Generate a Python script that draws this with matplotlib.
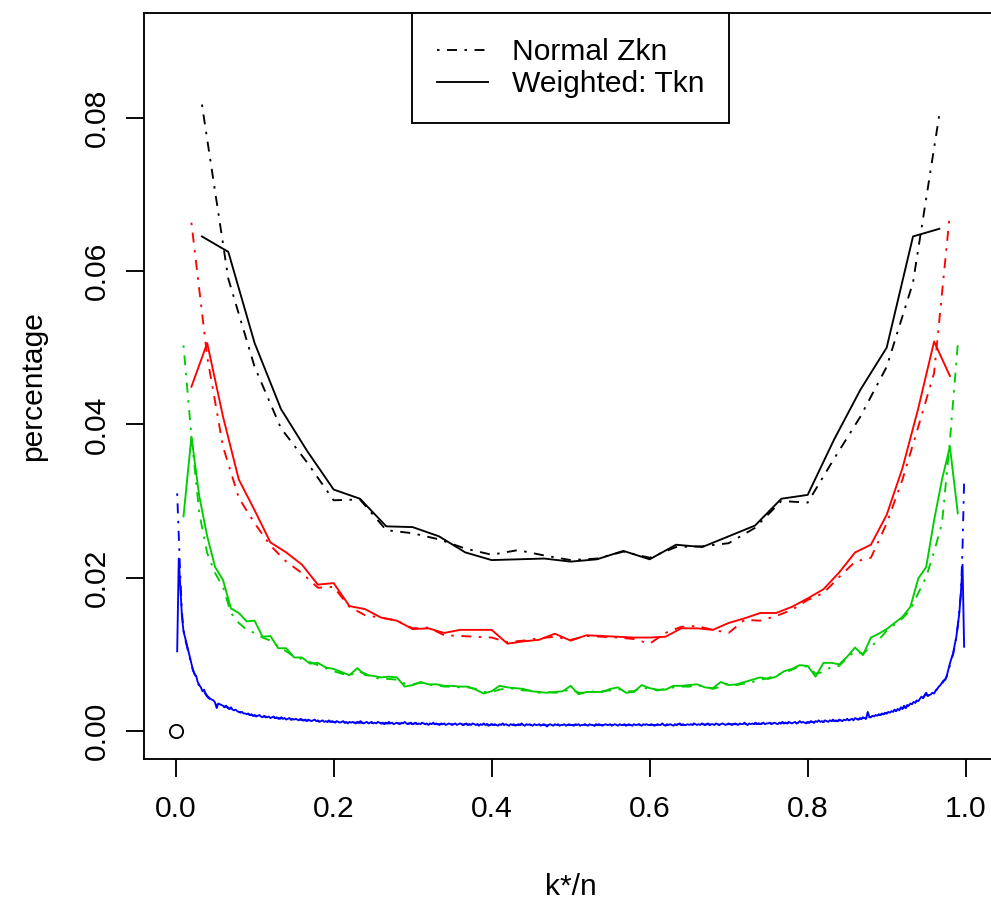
import matplotlib
matplotlib.use("Agg")
import matplotlib.pyplot as plt
import numpy as np

plt.rcParams["font.family"] = ["Liberation Sans", "DejaVu Sans"]
plt.rcParams["lines.scale_dashes"] = False

# sample sizes: points are at k/n for k = 1 .. n-1
n_black, n_red, n_green, n_blue = 30, 50, 100, 500

# black, n = 30
black_zkn = [0.0817, 0.0590, 0.0475, 0.0395, 0.0350, 0.0301, 0.0302, 0.0262, 0.0258, 0.0250,
             0.0238, 0.0230, 0.0236, 0.0229, 0.0223, 0.0225, 0.0234, 0.0226, 0.0240, 0.0241,
             0.0245, 0.0265, 0.0300, 0.0298, 0.0355, 0.0410, 0.0475, 0.0585, 0.0804]
black_tkn = [0.0645, 0.0625, 0.0506, 0.0420, 0.0365, 0.0315, 0.0303, 0.0267, 0.0266, 0.0254,
             0.0233, 0.0223, 0.0224, 0.0225, 0.0221, 0.0224, 0.0235, 0.0224, 0.0243, 0.0240,
             0.0254, 0.0268, 0.0303, 0.0308, 0.0380, 0.0445, 0.0500, 0.0645, 0.0655]

# red, n = 50
red_zkn = [0.0663, 0.0488, 0.0371, 0.0304, 0.0271, 0.0242, 0.0221, 0.0206, 0.0187, 0.0188,
           0.0162, 0.0151, 0.0148, 0.0144, 0.0134, 0.0135, 0.0125, 0.0124, 0.0123, 0.0122,
           0.0116, 0.0118, 0.0121, 0.0123, 0.0119, 0.0124, 0.0123, 0.0122, 0.0120, 0.0114,
           0.0128, 0.0136, 0.0137, 0.0132, 0.0128, 0.0145, 0.0144, 0.0150, 0.0158, 0.0171,
           0.0180, 0.0201, 0.0221, 0.0226, 0.0271, 0.0328, 0.0397, 0.0467, 0.0675]
red_tkn = [0.0449, 0.0506, 0.0410, 0.0328, 0.0288, 0.0246, 0.0233, 0.0217, 0.0191, 0.0193,
           0.0163, 0.0159, 0.0148, 0.0144, 0.0133, 0.0134, 0.0128, 0.0132, 0.0132, 0.0132,
           0.0114, 0.0117, 0.0119, 0.0127, 0.0118, 0.0125, 0.0124, 0.0123, 0.0122, 0.0122,
           0.0123, 0.0134, 0.0134, 0.0132, 0.0141, 0.0147, 0.0154, 0.0154, 0.0162, 0.0173,
           0.0185, 0.0207, 0.0233, 0.0243, 0.0282, 0.0343, 0.0421, 0.0508, 0.0463]

# green, n = 100
green_zkn = [0.0503, 0.0385, 0.0284, 0.0232, 0.0206, 0.0188, 0.0154, 0.0141, 0.0132, 0.0128,
             0.0122, 0.0118, 0.0110, 0.0104, 0.0097, 0.0094, 0.0090, 0.0086, 0.0082, 0.0078,
             0.0075, 0.0072, 0.0078, 0.0075, 0.0070, 0.0068, 0.0068, 0.0067, 0.0062, 0.0061,
             0.0063, 0.0060, 0.0060, 0.0058, 0.0058, 0.0057, 0.0057, 0.0055, 0.0051, 0.0051,
             0.0054, 0.0056, 0.0055, 0.0053, 0.0053, 0.0050, 0.0051, 0.0050, 0.0051, 0.0055,
             0.0050, 0.0050, 0.0052, 0.0052, 0.0053, 0.0055, 0.0052, 0.0052, 0.0057, 0.0055,
             0.0053, 0.0055, 0.0057, 0.0058, 0.0058, 0.0060, 0.0058, 0.0055, 0.0058, 0.0062,
             0.0060, 0.0062, 0.0064, 0.0067, 0.0069, 0.0073, 0.0076, 0.0080, 0.0085, 0.0084,
             0.0075, 0.0077, 0.0084, 0.0085, 0.0096, 0.0104, 0.0101, 0.0110, 0.0119, 0.0131,
             0.0139, 0.0147, 0.0158, 0.0180, 0.0201, 0.0234, 0.0271, 0.0378, 0.0505]
green_tkn = [0.0280, 0.0384, 0.0306, 0.0254, 0.0214, 0.0197, 0.0160, 0.0154, 0.0143, 0.0144,
             0.0123, 0.0124, 0.0108, 0.0108, 0.0096, 0.0096, 0.0088, 0.0089, 0.0083, 0.0081,
             0.0077, 0.0073, 0.0082, 0.0073, 0.0072, 0.0070, 0.0071, 0.0070, 0.0058, 0.0060,
             0.0064, 0.0061, 0.0061, 0.0059, 0.0059, 0.0058, 0.0058, 0.0054, 0.0049, 0.0052,
             0.0059, 0.0057, 0.0056, 0.0055, 0.0052, 0.0051, 0.0050, 0.0051, 0.0052, 0.0059,
             0.0048, 0.0051, 0.0051, 0.0051, 0.0055, 0.0057, 0.0050, 0.0051, 0.0060, 0.0056,
             0.0054, 0.0054, 0.0059, 0.0059, 0.0060, 0.0061, 0.0057, 0.0056, 0.0064, 0.0060,
             0.0061, 0.0064, 0.0067, 0.0070, 0.0068, 0.0071, 0.0078, 0.0081, 0.0086, 0.0085,
             0.0071, 0.0089, 0.0089, 0.0087, 0.0097, 0.0109, 0.0099, 0.0122, 0.0127, 0.0133,
             0.0141, 0.0149, 0.0162, 0.0199, 0.0214, 0.0275, 0.0328, 0.0371, 0.0284]

# blue, n = 500, in units of 1e-4
blue_zkn_e4 = [
    310, 255, 200, 155, 132, 120, 112, 103, 95, 86, 79, 75, 70, 63, 59, 56, 53, 52, 48, 45, 43, 41, 40, 39, 36,
    33, 35, 34, 33, 32, 31, 32, 31, 29, 30, 28, 27, 27, 26, 25, 25, 24, 23, 22, 23, 22, 21, 21, 20, 20,
    20, 19, 20, 19, 19, 19, 18, 18, 18, 18, 17, 18, 17, 17, 17, 16, 17, 16, 16, 16, 16, 16, 15, 15, 15,
    15, 15, 15, 15, 14, 14, 14, 14, 14, 14, 14, 13, 14, 13, 13, 13, 13, 13, 13, 12, 12, 13, 12, 12, 12,
    12, 12, 12, 11, 12, 12, 11, 11, 11, 11, 11, 11, 11, 11, 11, 11, 11, 11, 11, 11, 11, 10, 10, 11, 10,
    10, 10, 11, 10, 10, 10, 10, 10, 10, 10, 10, 10, 10, 10, 10, 10, 10, 10, 10, 10, 10, 10, 10, 10, 9,
    10, 10, 9, 10, 9, 10, 10, 9, 9, 9, 9, 9, 10, 9, 9, 9, 9, 9, 9, 9, 9, 9, 9, 9, 9,
    9, 9, 9, 9, 9, 9, 8, 9, 9, 8, 9, 8, 9, 9, 8, 9, 8, 9, 8, 9, 8, 9, 8, 8, 9,
    8, 8, 8, 8, 9, 8, 9, 8, 8, 8, 8, 8, 8, 8, 8, 8, 8, 8, 9, 8, 8, 8, 8, 8, 8,
    8, 8, 8, 8, 8, 8, 8, 8, 8, 7, 8, 8, 8, 8, 8, 8, 8, 8, 8, 8, 8, 8, 8, 8, 8,
    8, 8, 8, 8, 8, 8, 8, 8, 8, 8, 8, 8, 8, 8, 7, 8, 8, 8, 8, 8, 8, 8, 8, 8, 8,
    8, 8, 8, 8, 8, 8, 8, 8, 8, 8, 8, 8, 8, 8, 8, 8, 8, 9, 8, 8, 8, 8, 8, 8, 8,
    8, 8, 8, 8, 8, 8, 8, 9, 8, 8, 8, 8, 8, 8, 8, 8, 8, 9, 9, 8, 8, 8, 8, 8, 8,
    9, 8, 9, 9, 8, 9, 8, 9, 9, 8, 9, 9, 8, 9, 9, 8, 9, 9, 8, 9, 9, 9, 8, 9, 9,
    9, 9, 9, 9, 9, 9, 9, 9, 9, 10, 9, 9, 10, 9, 10, 9, 10, 9, 10, 9, 10, 10, 9, 10, 10,
    10, 10, 10, 10, 10, 10, 10, 10, 11, 10, 11, 10, 11, 11, 10, 11, 11, 10, 11, 12, 11, 11, 11, 11, 11,
    11, 12, 12, 11, 12, 12, 13, 12, 12, 12, 13, 12, 12, 13, 13, 14, 13, 13, 13, 14, 14, 13, 14, 14, 15,
    14, 15, 15, 14, 16, 16, 15, 16, 16, 17, 17, 16, 22, 18, 18, 19, 19, 20, 20, 21, 21, 22, 22, 23, 23,
    24, 24, 25, 25, 27, 26, 28, 27, 30, 29, 32, 30, 33, 33, 35, 35, 37, 37, 39, 39, 41, 44, 43, 46, 48,
    46, 47, 48, 49, 50, 52, 55, 57, 60, 62, 65, 67, 71, 78, 86, 94, 100, 110, 122, 138, 158, 180, 240, 325]
blue_tkn_e4 = [
    104, 225, 188, 150, 130, 122, 114, 105, 97, 88, 80, 74, 72, 64, 60, 57, 52, 54, 49, 46, 44, 42, 41, 40, 37,
    30, 36, 35, 34, 33, 32, 33, 30, 29, 31, 28, 27, 28, 26, 25, 24, 25, 23, 23, 22, 23, 21, 22, 20, 21,
    19, 20, 21, 19, 18, 20, 19, 18, 19, 17, 18, 19, 17, 18, 16, 17, 18, 16, 17, 15, 16, 17, 15, 16, 15,
    16, 15, 14, 16, 15, 14, 15, 13, 15, 14, 13, 14, 15, 13, 14, 12, 13, 14, 12, 13, 12, 14, 12, 13, 12,
    11, 13, 12, 11, 12, 13, 11, 12, 10, 12, 11, 12, 11, 10, 12, 11, 13, 11, 10, 11, 12, 10, 11, 12, 10,
    11, 10, 12, 11, 10, 11, 9, 11, 10, 12, 10, 11, 9, 10, 11, 10, 9, 11, 10, 12, 10, 9, 10, 11, 9,
    10, 11, 9, 10, 9, 11, 10, 9, 10, 8, 10, 9, 11, 9, 10, 9, 8, 10, 9, 10, 8, 9, 10, 9, 8,
    9, 10, 8, 9, 10, 9, 8, 9, 10, 8, 9, 8, 10, 9, 8, 9, 7, 9, 8, 10, 8, 9, 7, 8, 9,
    8, 9, 8, 7, 9, 8, 10, 8, 9, 8, 7, 9, 8, 9, 7, 8, 9, 8, 10, 8, 7, 9, 8, 9, 8,
    7, 9, 8, 8, 9, 7, 8, 9, 8, 6, 8, 9, 8, 7, 9, 8, 9, 7, 8, 8, 9, 7, 8, 9, 8,
    8, 7, 9, 8, 9, 7, 8, 8, 9, 8, 7, 9, 8, 8, 7, 9, 8, 9, 8, 7, 8, 9, 8, 8, 9,
    7, 8, 9, 8, 7, 9, 8, 8, 9, 7, 8, 9, 8, 7, 9, 8, 8, 9, 8, 7, 9, 8, 9, 8, 8,
    9, 8, 7, 8, 9, 8, 8, 10, 8, 7, 9, 8, 9, 8, 7, 9, 8, 9, 10, 8, 9, 8, 8, 9, 8,
    9, 8, 10, 9, 8, 9, 8, 10, 9, 8, 9, 10, 8, 9, 9, 8, 10, 9, 8, 9, 10, 9, 8, 9, 10,
    9, 8, 9, 10, 9, 8, 10, 9, 9, 11, 9, 8, 10, 9, 10, 9, 11, 9, 10, 9, 10, 11, 9, 10, 10,
    11, 9, 10, 11, 10, 9, 11, 10, 12, 10, 11, 10, 12, 11, 10, 11, 12, 10, 11, 13, 11, 12, 11, 10, 12,
    11, 13, 12, 11, 13, 12, 14, 12, 13, 12, 14, 13, 12, 14, 13, 15, 13, 14, 13, 15, 14, 13, 15, 14, 16,
    14, 15, 16, 14, 17, 16, 15, 17, 16, 18, 17, 16, 25, 19, 18, 20, 19, 21, 20, 22, 21, 23, 22, 24, 23,
    25, 24, 26, 25, 28, 26, 29, 27, 31, 29, 33, 30, 34, 33, 36, 35, 38, 37, 40, 39, 42, 45, 43, 47, 50,
    46, 47, 48, 50, 49, 53, 55, 58, 60, 63, 66, 67, 72, 80, 88, 95, 101, 112, 122, 137, 155, 182, 217, 110]

DOTDASH = (0, (1, 3, 4, 3))  # R lty = 4 ("1343")
LW = 0.75

series = [
    (n_black, black_zkn, black_tkn, "black"),
    (n_red, red_zkn, red_tkn, "#FF0000"),
    (n_green, green_zkn, green_tkn, "#00CD00"),
    (n_blue, np.array(blue_zkn_e4) * 1e-4, np.array(blue_tkn_e4) * 1e-4, "#0000FF"),
]

DPI = 180
fig = plt.figure(figsize=(991 / DPI, 901 / DPI), dpi=DPI)
# plot region runs slightly past the right edge of the picture, as in the original
ax = fig.add_axes([144 / 991, 142.3 / 901, 853.3 / 991, 745.4 / 901])

ax.plot([0], [0], "o", ms=5.3, mfc="none", mec="black", mew=LW)

handles = []
for n, zkn, tkn, col in series:
    x = np.arange(1, n) / n
    hz, = ax.plot(x, zkn, color=col, lw=LW, linestyle=DOTDASH)
    ht, = ax.plot(x, tkn, color=col, lw=LW, linestyle="-")
    if col == "black":
        handles = [hz, ht]

ax.set_xlim(-0.04, 1.04)
ax.set_ylim(-0.0036, 0.0936)

xt = [0.0, 0.2, 0.4, 0.6, 0.8, 1.0]
yt = [0.00, 0.02, 0.04, 0.06, 0.08]
ax.set_xticks(xt)
ax.set_xticklabels([f"{v:.1f}" for v in xt])
ax.set_yticks(yt)
ax.set_yticklabels([f"{v:.2f}" for v in yt], rotation=90, va="center")
ax.tick_params(direction="out", length=7.2, width=LW, labelsize=12, colors="black")
ax.tick_params(axis="x", pad=7.5)
ax.tick_params(axis="y", pad=6.2)
for s in ax.spines.values():
    s.set_linewidth(LW)

ax.set_xlabel("k*/n", fontsize=12, labelpad=20)
ax.set_ylabel("percentage", fontsize=12, labelpad=14)

leg = ax.legend(handles, ["Normal Zkn", "Weighted: Tkn"], loc="upper center",
                bbox_to_anchor=(0.5, 1.0), borderaxespad=0, fancybox=False,
                edgecolor="black", framealpha=1, fontsize=12, handlelength=1.7,
                handletextpad=0.8, borderpad=0.83, labelspacing=0.13)
leg.get_frame().set_linewidth(LW)

fig.savefig("out.png", dpi=DPI)
